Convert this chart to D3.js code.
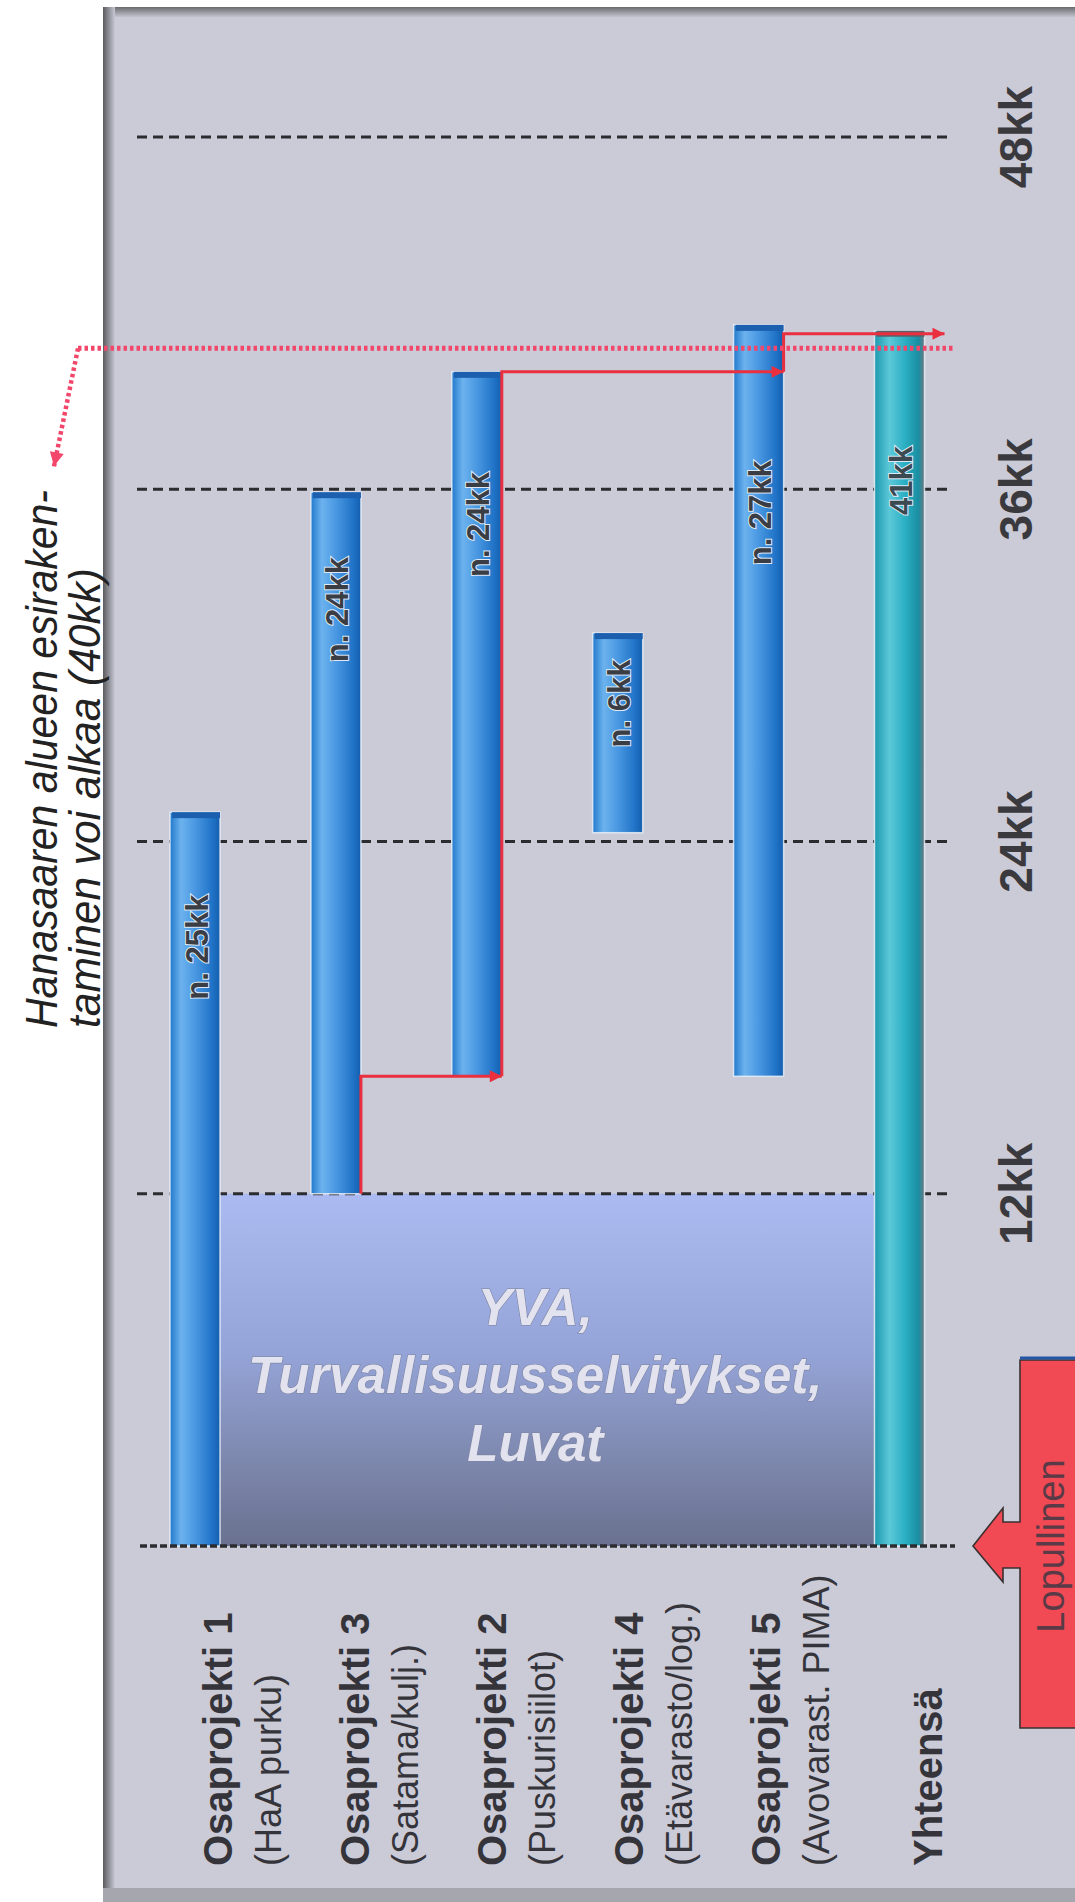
<!DOCTYPE html>
<html><head><meta charset="utf-8">
<script src="https://cdn.jsdelivr.net/npm/d3@7"></script>
<style>
html,body{margin:0;padding:0;background:#fff;}
svg{display:block;font-family:"Liberation Sans",Arial,sans-serif;}
</style></head>
<body>
<script>
// ---------- data ----------
const categories = ["Osaprojekti 1","Osaprojekti 3","Osaprojekti 2","Osaprojekti 4","Osaprojekti 5","Yhteensä"];
const subLabels  = ["(HaA purku)","(Satama/kulj.)","(Puskurisiilot)","(Etävarasto/log.)","(Avovarast. PIMA)",""];
const startMonths = [0, 12, 16, 24.3, 16, 0];
const endMonths   = [25, 35.9, 40, 31.1, 41.6, 41.4];
const barLabels   = ["n. 25kk","n. 24kk","n. 24kk","n. 6kk","n. 27kk","41kk"];
const barLabelAt  = [20.4, 31.9, 34.8, 28.7, 35.2, 36.3];
const tickValues  = [12, 24, 36, 48];
const tickLabels  = ["12kk","24kk","36kk","48kk"];
const phaseLines  = ["YVA,","Turvallisuusselvitykset,","Luvat"];
const phaseSpan   = [0, 12];
const startLineMonth = 40.8;
const noteLines   = ["Hanasaaren alueen esiraken-","taminen voi alkaa (40kk)"];
const handoffFrom = ["Osaprojekti 3","Osaprojekti 2","Osaprojekti 5"];
const handoffTo   = ["Osaprojekti 2","Osaprojekti 5","Yhteensä"];
const handoffStart= [12, 16, 40];
const handoffLevel= [16, 40, 41.3];
const finalLabel  = "Lopullinen";

// ---------- setup ----------
const W = 1075, H = 1902;
const svg = d3.select("body").append("svg").attr("width", W).attr("height", H);
const defs = svg.append("defs");

const y = d3.scaleLinear().domain([0, 48]).range([1546, 137]);
const x = d3.scaleBand().domain(categories).range([170, 924.5]).paddingInner(0.645).paddingOuter(0);
const bw = x.bandwidth();
const lx = d3.scalePoint().domain(categories).range([218, 903]);

function lin(id, stops, vertical) {
  const g = defs.append("linearGradient").attr("id", id)
    .attr("x1", 0).attr("y1", 0).attr("x2", vertical ? 0 : 1).attr("y2", vertical ? 1 : 0);
  stops.forEach(s => g.append("stop").attr("offset", s[0]).attr("stop-color", s[1]));
}
lin("gBlue", [[0,"#2279cc"],[0.22,"#6cb2ee"],[0.5,"#4a98e2"],[0.85,"#1f72c6"],[1,"#155eae"]]);
lin("gTeal", [[0,"#1c98ae"],[0.3,"#5cc8d8"],[0.6,"#2cb0c4"],[0.88,"#1a8ea2"],[1,"#6d7880"]]);
lin("gPhase", [[0,"#abbaf0"],[0.45,"#95a4d8"],[0.8,"#7a84a8"],[1,"#6a7190"]], true);
lin("gTop", [[0,"#6a6a6e"],[1,"#c4c4d0"]], true);
lin("gLeft", [[0,"#5a5a5e"],[1,"#c8c8d4"]]);

defs.append("marker").attr("id","redHead").attr("viewBox","0 0 10 10")
  .attr("refX",10).attr("refY",5).attr("markerWidth",16).attr("markerHeight",12)
  .attr("markerUnits","userSpaceOnUse").attr("orient","auto")
  .append("path").attr("d","M0,0L10,5L0,10z").attr("fill","#ea2f3e");
defs.append("marker").attr("id","pinkHead").attr("viewBox","0 0 10 10")
  .attr("refX",10).attr("refY",5).attr("markerWidth",16).attr("markerHeight",14)
  .attr("markerUnits","userSpaceOnUse").attr("orient","auto")
  .append("path").attr("d","M0,0L10,5L0,10z").attr("fill","#f2466a");

// ---------- frame ----------
svg.append("rect").attr("x",103).attr("y",7).attr("width",W-103).attr("height",1888).attr("fill","#cbcbd8");
svg.append("rect").attr("x",103).attr("y",7).attr("width",W-103).attr("height",10).attr("fill","url(#gTop)");
svg.append("rect").attr("x",103).attr("y",7).attr("width",12).attr("height",1888).attr("fill","url(#gLeft)");
svg.append("rect").attr("x",103).attr("y",1888).attr("width",W-103).attr("height",14).attr("fill","#a6a6ae");

// ---------- phase box ----------
const px0 = x(categories[0]) + bw, px1 = x(categories[5]);
svg.append("rect").attr("x", px0).attr("y", y(phaseSpan[1]))
  .attr("width", px1 - px0).attr("height", y(phaseSpan[0]) - y(phaseSpan[1]))
  .attr("fill","url(#gPhase)");
const pcx = (px0 + px1) / 2 - 12;
const pcy = (y(phaseSpan[0]) + y(phaseSpan[1])) / 2;
svg.append("g").selectAll("text").data(phaseLines).join("text")
  .attr("x", pcx).attr("y", (d,i) => pcy - 45 + i * 68)
  .attr("text-anchor","middle").attr("font-size",51).attr("font-weight","bold").attr("font-style","italic")
  .attr("fill","#e2e3ee").attr("stroke","#7d83a2").attr("stroke-width",1.2).attr("paint-order","stroke")
  .text(d => d);

// ---------- grid ----------
const grid = svg.append("g");
grid.selectAll("line.g").data(tickValues).join("line").attr("class","g")
  .attr("x1",137).attr("x2",952).attr("y1",d=>y(d)).attr("y2",d=>y(d))
  .attr("stroke","#2c2c30").attr("stroke-width",3).attr("stroke-dasharray","10 6");

// ---------- bars ----------
const bars = svg.append("g");
categories.forEach((c, i) => {
  const teal = c === "Yhteensä";
  const top = y(endMonths[i]), bot = y(startMonths[i]);
  bars.append("rect").attr("x", x(c)).attr("y", top).attr("width", bw).attr("height", bot - top)
    .attr("fill", teal ? "url(#gTeal)" : "url(#gBlue)")
    .attr("stroke","#eef2fa").attr("stroke-width",1.5).attr("stroke-opacity",0.8);
  bars.append("rect").attr("x", x(c) + 2).attr("y", top).attr("width", bw - 2).attr("height", 6)
    .attr("fill", teal ? "#5a6169" : "#1c5fae");
  bars.append("text")
    .attr("transform", `translate(${x(c) + bw/2 + 2},${y(barLabelAt[i])}) rotate(-90)`)
    .attr("text-anchor","middle").attr("dominant-baseline","central")
    .attr("font-size",31).attr("font-weight","bold")
    .attr("fill", teal ? "#3a4a50" : "#3a3d44")
    .attr("stroke","#dfe9f6").attr("stroke-width",2).attr("paint-order","stroke")
    .text(barLabels[i]);
});

// ---------- zero line ----------
svg.append("line").attr("x1",140).attr("x2",955).attr("y1",y(0)).attr("y2",y(0))
  .attr("stroke","#2c2c30").attr("stroke-width",3.5).attr("stroke-dasharray","7 3");

// ---------- tick labels ----------
svg.append("g").selectAll("text").data(tickValues).join("text")
  .attr("transform", d => `translate(1016,${y(d)}) rotate(-90)`)
  .attr("text-anchor","middle").attr("dominant-baseline","central")
  .attr("font-size",46).attr("font-weight","bold").attr("fill","#3a3a3e")
  .text((d,i) => tickLabels[i]);

// ---------- category labels ----------
const labs = svg.append("g");
categories.forEach((c, i) => {
  const two = subLabels[i] !== "";
  const gc = lx(c) + 25;
  labs.append("text")
    .attr("transform", `translate(${two ? gc - 25 : gc},1866) rotate(-90)`)
    .attr("dominant-baseline","central").attr("font-size",40).attr("font-weight","bold")
    .attr("fill","#34343a").text(c);
  if (two) labs.append("text")
    .attr("transform", `translate(${gc + 25},1866) rotate(-90)`)
    .attr("dominant-baseline","central").attr("font-size",36)
    .attr("fill","#34343a").text(subLabels[i]);
});

// ---------- handoff arrows ----------
svg.append("g").selectAll("path").data(handoffFrom).join("path")
  .attr("d", (d,i) => {
    const xs = x(d) + bw;
    const xe = x(handoffTo[i]) + bw + (handoffTo[i] === "Yhteensä" ? 20 : 0);
    return `M${xs},${y(handoffStart[i])}V${y(handoffLevel[i])}H${xe}`;
  })
  .attr("fill","none").attr("stroke","#ea2f3e").attr("stroke-width",3)
  .attr("marker-end","url(#redHead)");

// ---------- start line (40kk) ----------
const ys = y(startLineMonth);
svg.append("line").attr("x1",78).attr("x2",953).attr("y1",ys).attr("y2",ys)
  .attr("stroke","#f2466a").attr("stroke-width",5).attr("stroke-dasharray","3.5 3");
svg.append("path").attr("d",`M78,${ys}L54,${ys+118}`)
  .attr("fill","none").attr("stroke","#f2466a").attr("stroke-width",4.5).attr("stroke-dasharray","3.5 3")
  .attr("marker-end","url(#pinkHead)");

// ---------- note ----------
svg.append("g").selectAll("text").data(noteLines).join("text")
  .attr("transform",(d,i) => `translate(${41 + i*43},1028) rotate(-90)`)
  .attr("dominant-baseline","central").attr("font-size",44).attr("font-style","italic")
  .attr("fill","#222").attr("textLength",(d,i) => i === 0 ? 538 : 460)
  .attr("lengthAdjust","spacingAndGlyphs").text(d => d);

// ---------- final callout ----------
const Y0 = y(0);
const call = svg.append("g");
call.append("path").attr("d",
  `M973,${Y0}L1003,${Y0-38}L1003,${Y0-24}L1020,${Y0-24}L1020,${Y0-186}L1080,${Y0-186}` +
  `L1080,${Y0+182}L1020,${Y0+182}L1020,${Y0+22}L1003,${Y0+22}L1003,${Y0+36}Z`)
  .attr("fill","#f24a55").attr("stroke","#3a3030").attr("stroke-width",1.6);
call.append("line").attr("x1",1020).attr("x2",1080).attr("y1",Y0-188).attr("y2",Y0-188)
  .attr("stroke","#2456a8").attr("stroke-width",3);
call.append("text").attr("transform",`translate(1051,${Y0}) rotate(-90)`)
  .attr("text-anchor","middle").attr("dominant-baseline","central")
  .attr("font-size",38).attr("fill","#5a3a46").text(finalLabel);
</script>
</body></html>
